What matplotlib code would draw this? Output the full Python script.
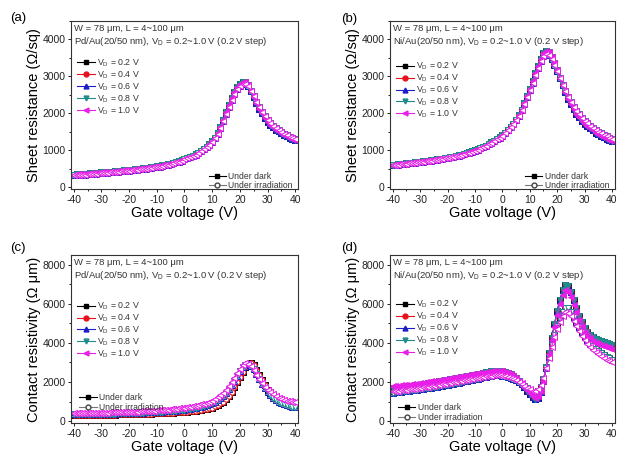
import matplotlib
matplotlib.use('Agg')
from matplotlib import pyplot as plt
from matplotlib.lines import Line2D
from matplotlib.ticker import MultipleLocator
import numpy as np

plt.rcParams['font.family'] = ['Liberation Sans', 'DejaVu Sans']
plt.rcParams['mathtext.fontset'] = 'custom'
plt.rcParams['mathtext.rm'] = 'Liberation Sans'
plt.rcParams['mathtext.default'] = 'regular'
plt.rcParams['axes.unicode_minus'] = False

gate_v = np.arange(-40, 41, 1)
vd_labels = ['V$_D$ = 0.2 V', 'V$_D$ = 0.4 V', 'V$_D$ = 0.6 V',
             'V$_D$ = 0.8 V', 'V$_D$ = 1.0 V']
vd_colors = ['#000000', '#e8101c', '#1c1cc8', '#1f8c8c', '#e81ee8']
vd_markers = ['s', 'o', '^', 'v', '<']

# (a) Pd/Au sheet resistance
a_dark = [340, 345, 351, 357, 363, 369, 375, 381, 387, 393,
          400, 406, 412, 418, 424, 431, 438, 445, 452, 459,
          466, 474, 482, 490, 498, 507, 517, 527, 537, 548,
          560, 574, 588, 603, 620, 638, 658, 680, 705, 731,
          760, 790, 822, 857, 895, 935, 985, 1040, 1100, 1165,
          1240, 1340, 1470, 1630, 1820, 2030, 2230, 2420, 2580, 2710,
          2800, 2850, 2840, 2760, 2600, 2430, 2270, 2130, 2000, 1880,
          1770, 1690, 1620, 1560, 1510, 1460, 1420, 1380, 1340, 1310,
          1280]
a_irr = [320, 325, 331, 337, 343, 349, 355, 361, 367, 373,
         380, 386, 392, 398, 404, 411, 418, 425, 432, 440,
         448, 456, 464, 472, 481, 490, 500, 510, 521, 533,
         545, 559, 574, 590, 607, 626, 647, 670, 695, 722,
         750, 780, 812, 846, 884, 925, 972, 1025, 1085, 1150,
         1225, 1320, 1445, 1600, 1785, 1985, 2180, 2365, 2520, 2650,
         2745, 2790, 2785, 2730, 2610, 2460, 2310, 2170, 2040, 1925,
         1820, 1735, 1660, 1600, 1545, 1495, 1450, 1410, 1370, 1335,
         1300]

# (b) Ni/Au sheet resistance
b_dark = [600, 608, 616, 625, 633, 642, 651, 660, 670, 680,
          690, 700, 710, 720, 731, 742, 753, 764, 776, 788,
          800, 815, 830, 846, 862, 880, 900, 922, 946, 972,
          1000, 1030, 1060, 1092, 1128, 1168, 1210, 1255, 1302, 1350,
          1400, 1470, 1545, 1630, 1720, 1820, 1950, 2100, 2270, 2460,
          2660, 2870, 3080, 3290, 3480, 3640, 3700, 3650, 3530, 3360,
          3170, 2960, 2760, 2570, 2400, 2240, 2110, 1990, 1890, 1800,
          1720, 1650, 1590, 1535, 1480, 1430, 1390, 1350, 1310, 1280,
          1250]
b_irr = [590, 598, 606, 615, 623, 632, 641, 650, 660, 670,
         680, 690, 700, 710, 721, 732, 743, 754, 766, 778,
         790, 805, 820, 836, 852, 870, 890, 912, 936, 962,
         990, 1020, 1050, 1082, 1118, 1158, 1200, 1245, 1292, 1340,
         1390, 1460, 1535, 1618, 1708, 1808, 1935, 2080, 2245, 2430,
         2625, 2830, 3030, 3230, 3410, 3550, 3600, 3570, 3470, 3320,
         3150, 2960, 2780, 2610, 2450, 2310, 2180, 2070, 1970, 1880,
         1800, 1730, 1665, 1605, 1550, 1500, 1455, 1415, 1375, 1340,
         1310]

# (c) Pd/Au contact resistivity
c_lo = [300, 302, 304, 306, 308, 310, 312, 314, 316, 318,
        320, 323, 326, 329, 332, 335, 338, 341, 344, 347,
        350, 354, 358, 362, 366, 370, 375, 380, 385, 390,
        395, 401, 407, 413, 420, 427, 435, 443, 452, 461,
        470, 482, 495, 510, 527, 545, 567, 592, 620, 650,
        690, 750, 820, 900, 1000, 1130, 1300, 1500, 1740, 2000,
        2260, 2520, 2750, 2920, 2950, 2850, 2620, 2350, 2080, 1830,
        1600, 1430, 1290, 1170, 1070, 990, 930, 880, 840, 800,
        770]
c_mid = [340, 342, 344, 347, 350, 353, 356, 359, 362, 365,
         368, 371, 374, 378, 382, 386, 390, 394, 398, 402,
         406, 411, 416, 421, 427, 433, 439, 446, 453, 460,
         468, 476, 485, 494, 504, 515, 527, 540, 554, 569,
         585, 603, 623, 645, 670, 698, 730, 767, 810, 860,
         920, 990, 1070, 1170, 1290, 1440, 1620, 1830, 2070, 2320,
         2560, 2760, 2890, 2920, 2830, 2640, 2400, 2150, 1910, 1690,
         1500, 1340, 1200, 1090, 1000, 930, 870, 820, 780, 745,
         720]
c_hi = [400, 403, 406, 409, 412, 415, 418, 421, 424, 427,
        430, 434, 438, 442, 446, 450, 454, 458, 462, 466,
        470, 476, 482, 488, 494, 500, 508, 516, 524, 533,
        542, 552, 563, 575, 588, 602, 617, 633, 651, 670,
        690, 712, 736, 762, 790, 820, 855, 895, 940, 990,
        1050, 1120, 1210, 1320, 1450, 1610, 1800, 2010, 2230, 2440,
        2640, 2850, 2970, 2930, 2800, 2600, 2370, 2140, 1930, 1750,
        1600, 1470, 1360, 1270, 1200, 1140, 1090, 1050, 1020, 1000,
        980]

# (d) Ni/Au contact resistivity
d_dark = [1700, 1715, 1730, 1745, 1760, 1775, 1790, 1806, 1822, 1840,
          1860, 1884, 1908, 1932, 1956, 1980, 2006, 2032, 2060, 2090,
          2120, 2145, 2170, 2195, 2220, 2245, 2270, 2295, 2320, 2345,
          2370, 2400, 2430, 2460, 2490, 2520, 2545, 2565, 2575, 2570,
          2550, 2515, 2465, 2400, 2310, 2200, 2070, 1920, 1750, 1560,
          1380, 1220, 1120, 1200, 1500, 2050, 2750, 3500, 4250, 4950,
          5650, 6200, 6700, 6980, 6900, 6600, 6200, 5800, 5400, 5050,
          4780, 4580, 4430, 4310, 4220, 4150, 4090, 4040, 3990, 3950,
          3900]
d_dark_hi = [1780, 1795, 1810, 1825, 1840, 1855, 1870, 1886, 1902, 1920,
             1940, 1962, 1984, 2006, 2028, 2050, 2074, 2098, 2122, 2146,
             2170, 2194, 2218, 2242, 2266, 2290, 2314, 2338, 2362, 2386,
             2410, 2435, 2460, 2485, 2510, 2530, 2548, 2560, 2565, 2560,
             2540, 2505, 2455, 2390, 2300, 2195, 2070, 1925, 1765, 1590,
             1420, 1280, 1200, 1270, 1540, 2050, 2720, 3450, 4150, 4830,
             5450, 5980, 6450, 6700, 6630, 6350, 5960, 5570, 5190, 4850,
             4580, 4380, 4230, 4110, 4020, 3950, 3890, 3840, 3790, 3750,
             3700]
d_irr = [1450, 1467, 1484, 1501, 1518, 1535, 1553, 1571, 1590, 1610,
         1630, 1651, 1672, 1694, 1716, 1738, 1760, 1784, 1808, 1834,
         1860, 1887, 1914, 1942, 1970, 1998, 2027, 2056, 2085, 2114,
         2144, 2174, 2204, 2234, 2264, 2294, 2320, 2340, 2350, 2345,
         2330, 2300, 2260, 2210, 2150, 2080, 2000, 1900, 1790, 1670,
         1560, 1480, 1460, 1530, 1750, 2150, 2700, 3300, 3900, 4400,
         4850, 5250, 5600, 5810, 5780, 5600, 5340, 5060, 4790, 4540,
         4320, 4130, 3970, 3830, 3700, 3580, 3470, 3380, 3290, 3210,
         3140]
d_irr_hi = [1520, 1537, 1554, 1571, 1588, 1605, 1623, 1641, 1660, 1680,
            1700, 1721, 1742, 1764, 1786, 1808, 1830, 1854, 1878, 1904,
            1930, 1956, 1982, 2008, 2034, 2060, 2086, 2112, 2138, 2164,
            2190, 2215, 2240, 2265, 2290, 2312, 2330, 2342, 2348, 2345,
            2330, 2300, 2260, 2210, 2150, 2080, 2000, 1910, 1810, 1710,
            1620, 1560, 1550, 1620, 1830, 2200, 2700, 3250, 3800, 4280,
            4700, 5080, 5400, 5560, 5530, 5360, 5120, 4860, 4600, 4360,
            4140, 3950, 3790, 3650, 3530, 3420, 3320, 3230, 3150, 3070,
            3000]

panels = [
    dict(letter='(a)', metal='Pd/Au', ylabel='Sheet resistance (\u03a9/sq)',
         ylim=(-50, 4500), ystep=1000,
         dark=[a_dark] * 5, irr=[a_irr] * 5,
         rect=[0.1134, 0.590, 0.3626, 0.3644], leg1=0.82, leg2=(0.58, 0.14)),
    dict(letter='(b)', metal='Ni/Au', ylabel='Sheet resistance (\u03a9/sq)',
         ylim=(-50, 4500), ystep=1000,
         dark=[b_dark] * 5, irr=[b_irr] * 5,
         rect=[0.623, 0.590, 0.359, 0.3644], leg1=0.80, leg2=(0.575, 0.14)),
    dict(letter='(c)', metal='Pd/Au', ylabel='Contact resistivity (\u03a9 \u03bcm)',
         ylim=(-100, 8500), ystep=2000,
         dark=[c_lo, c_lo, c_mid, c_mid, c_hi],
         irr=[c_lo, c_lo, c_mid, c_mid, c_hi],
         rect=[0.1134, 0.0824, 0.3626, 0.3644], leg1=0.765, leg2=(0.01, 0.215)),
    dict(letter='(d)', metal='Ni/Au', ylabel='Contact resistivity (\u03a9 \u03bcm)',
         ylim=(-100, 8500), ystep=2000,
         dark=[d_dark, d_dark, d_dark, d_dark, d_dark_hi],
         irr=[d_irr, d_irr, d_irr, d_irr, d_irr_hi],
         rect=[0.623, 0.0824, 0.359, 0.3644], leg1=0.775, leg2=(0.01, 0.155)),
]

fig = plt.figure(figsize=(6.26, 4.61), dpi=100)

for p in panels:
    ax = fig.add_axes(p['rect'])
    for i in range(5):
        ax.plot(gate_v, p['dark'][i], color=vd_colors[i], marker=vd_markers[i],
                markersize=3.7, linewidth=0.7, markeredgewidth=0.7)
        ax.plot(gate_v, p['irr'][i], color=vd_colors[i], marker=vd_markers[i],
                markersize=3.7, linewidth=0.7, markeredgewidth=0.7,
                markerfacecolor='white')

    ax.set_xlim(-41, 41)
    ax.set_ylim(p['ylim'])
    ax.xaxis.set_major_locator(MultipleLocator(10))
    ax.xaxis.set_minor_locator(MultipleLocator(5))
    ax.yaxis.set_major_locator(MultipleLocator(p['ystep']))
    ax.yaxis.set_minor_locator(MultipleLocator(p['ystep'] / 2))
    ax.tick_params(labelsize=7.5, length=2.5, width=0.7, pad=1.5, colors='#222222')
    ax.tick_params(which='minor', length=1.5, width=0.6)
    for s in ax.spines.values():
        s.set_linewidth(0.8)
        s.set_color('#333333')
    ax.set_xlabel('Gate voltage (V)', fontsize=10.5, labelpad=1)
    ax.set_ylabel(p['ylabel'], fontsize=10.5, labelpad=1)

    ax.text(0.015, 0.985,
            'W = 78 \u03bcm, L = 4~100 \u03bcm\n' + p['metal'] +
            '(20/50 nm), V$_D$ = 0.2~1.0 V (0.2 V step)',
            transform=ax.transAxes, fontsize=6.8, va='top', ha='left',
            linespacing=1.3, color='#333333')

    vd_handles = [Line2D([], [], color=vd_colors[i], marker=vd_markers[i],
                         markersize=3.5, linewidth=0.8) for i in range(5)]
    leg = ax.legend(vd_handles, vd_labels, loc='upper left',
                    bbox_to_anchor=(0.0, p['leg1']), frameon=False,
                    fontsize=6.3, labelspacing=0.05, handlelength=2.0,
                    handletextpad=0.3, borderpad=0.2)
    for t in leg.get_texts():
        t.set_color('#333333')
    ax.add_artist(leg)

    cond_handles = [Line2D([], [], color='black', marker='s', markersize=3.5,
                           linewidth=0.8),
                    Line2D([], [], color='#777777', marker='o', markersize=3.5,
                           linewidth=0.8, markerfacecolor='white',
                           markeredgecolor='#444444')]
    leg2 = ax.legend(cond_handles, ['Under dark', 'Under irradiation'],
                     loc='upper left', bbox_to_anchor=p['leg2'], frameon=False,
                     fontsize=6.2, labelspacing=0.1, handlelength=2.0,
                     handletextpad=0.3, borderpad=0.2)
    for t in leg2.get_texts():
        t.set_color('#333333')

fig.text(0.016, 0.975, '(a)', fontsize=9.5, va='top')
fig.text(0.545, 0.972, '(b)', fontsize=9.5, va='top')
fig.text(0.016, 0.475, '(c)', fontsize=9.5, va='top')
fig.text(0.545, 0.475, '(d)', fontsize=9.5, va='top')

fig.savefig('out.png', dpi=100)
